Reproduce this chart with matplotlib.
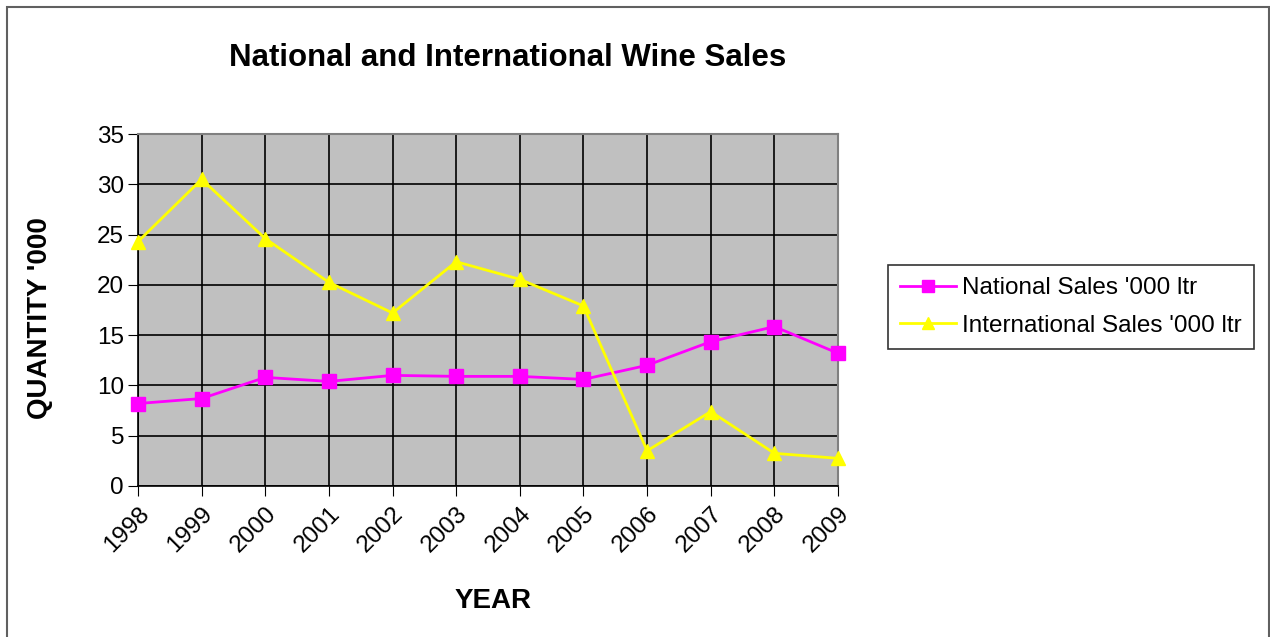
import matplotlib.pyplot as plt
from matplotlib.patches import Rectangle

years = ['1998', '1999', '2000', '2001', '2002', '2003',
         '2004', '2005', '2006', '2007', '2008', '2009']
national = [8.2, 8.7, 10.8, 10.4, 11.0, 10.9, 10.9, 10.6, 12.0, 14.35, 15.85, 13.2]
international = [24.3, 30.5, 24.6, 20.25, 17.2, 22.3, 20.55, 17.9, 3.5, 7.4, 3.25, 2.75]

plt.rcParams['font.family'] = ['Liberation Sans', 'DejaVu Sans']

fig = plt.figure(figsize=(12.7, 6.37), dpi=100)
ax = fig.add_axes([138 / 1270, 1 - 486 / 637, 700 / 1270, 352 / 637])

x = list(range(len(years)))
ax.plot(x, national, color='#FF00FF', lw=2, marker='s', ms=10,
        label="National Sales '000 ltr", zorder=3, clip_on=False)
ax.plot(x, international, color='#FFFF00', lw=2, marker='^', ms=10,
        label="International Sales '000 ltr", zorder=3, clip_on=False)

ax.set_facecolor('#C0C0C0')
ax.set_xlim(0, len(years) - 1)
ax.set_ylim(0, 35)
ax.set_yticks(range(0, 36, 5))
ax.set_xticks(x)
ax.set_xticklabels(years, rotation=45, ha='right', va='top',
                   rotation_mode='anchor', fontsize=17.5)
ax.tick_params(axis='y', labelsize=17.5, length=7, direction='out', pad=3)
ax.tick_params(axis='x', length=7, direction='out', pad=5)
ax.grid(True, color='black', lw=1.2)
ax.set_axisbelow(True)

for s in ['top', 'right']:
    ax.spines[s].set_color('#808080')
    ax.spines[s].set_linewidth(1.5)
for s in ['left', 'bottom']:
    ax.spines[s].set_color('black')
    ax.spines[s].set_linewidth(1.2)

ax.set_xlabel('YEAR', fontsize=20, fontweight='bold', va='center')
ax.xaxis.set_label_coords((493 - 138) / 700, (486 - 601) / 352)
ax.set_ylabel("QUANTITY '000", fontsize=20, fontweight='bold', va='center')
ax.yaxis.set_label_coords((40 - 138) / 700, (486 - 318) / 352)

fig.text(508 / 1270, 1 - 58 / 637, 'National and International Wine Sales',
         ha='center', va='center', fontsize=22.5, fontweight='bold')

leg = ax.legend(loc='center left', bbox_to_anchor=(888 / 1270, 1 - 307 / 637),
                bbox_transform=fig.transFigure, fontsize=17.5, frameon=True,
                fancybox=False, edgecolor='black', borderpad=0.5,
                handlelength=2.3, handletextpad=0.25, labelspacing=0.65,
                borderaxespad=0, markerscale=0.8)
leg.get_frame().set_linewidth(1.2)

fig.patches.append(Rectangle((7 / 1270, -0.05), 1262 / 1270, 1.05 - 7 / 637,
                             transform=fig.transFigure, fill=False,
                             edgecolor='#606060', lw=1.5))

fig.savefig('out.png', dpi=100, facecolor='white')
